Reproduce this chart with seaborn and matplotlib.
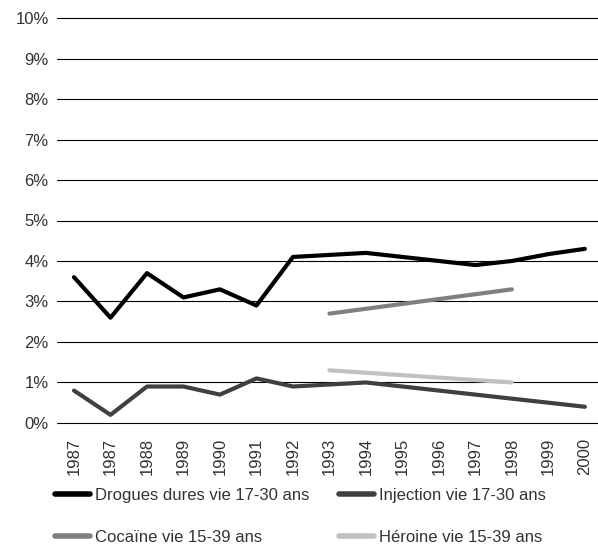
import numpy as np
import pandas as pd
import seaborn as sns
import matplotlib.pyplot as plt
from matplotlib.ticker import PercentFormatter

# Years on the axis (1987 appears twice in the source)
years = ['1987', '1987', '1988', '1989', '1990', '1991', '1992', '1993',
         '1994', '1995', '1996', '1997', '1998', '1999', '2000']

nan = np.nan
drogues = [3.6, 2.6, 3.7, 3.1, 3.3, 2.9, 4.1, 4.15, 4.2, 4.1, 4.0, 3.9, 4.0, 4.17, 4.3]
injection = [0.8, 0.2, 0.9, 0.9, 0.7, 1.1, 0.9, 0.95, 1.0, 0.9, 0.8, 0.7, 0.6, 0.5, 0.4]
cocaine = [nan] * 7 + [2.7, 2.82, 2.94, 3.06, 3.18, 3.3] + [nan, nan]
heroine = [nan] * 7 + [1.3, 1.24, 1.18, 1.12, 1.06, 1.0] + [nan, nan]

series = {
    'Drogues dures vie 17-30 ans': drogues,
    'Injection vie 17-30 ans': injection,
    'Cocaïne vie 15-39 ans': cocaine,
    'Héroine vie 15-39 ans': heroine,
}
colors = ['#000000', '#404040', '#808080', '#c0c0c0']

rows = []
for name, vals in series.items():
    for i, v in enumerate(vals):
        rows.append({'pos': i, 'serie': name, 'val': v / 100})
df = pd.DataFrame(rows).dropna()

sns.set_style('white')
plt.rcParams['font.family'] = ['Liberation Sans', 'DejaVu Sans']

fig = plt.figure(figsize=(5.98, 5.51), dpi=100)
ax = fig.add_axes([57 / 598, 1 - 427 / 551, 1 - 57 / 598, (427 - 14) / 551])

sns.lineplot(data=df, x='pos', y='val', hue='serie', hue_order=list(series),
             palette=colors, linewidth=3, ax=ax, legend=True)

ax.set_xlim(-0.466, 14.36)
ax.set_ylim(-0.001, 0.101)
ax.set_yticks(np.arange(0, 0.101, 0.01))
ax.yaxis.set_major_formatter(PercentFormatter(1.0, decimals=0))
ax.set_xticks(range(len(years)))
ax.set_xticklabels(years, rotation=90)
ax.tick_params(axis='both', length=0, labelsize=12, labelcolor='#333333')
ax.tick_params(axis='x', pad=8)
ax.tick_params(axis='y', pad=6)
ax.set_xlabel('')
ax.set_ylabel('')
for s in ax.spines.values():
    s.set_visible(False)
ax.grid(axis='y', color='#000000', linewidth=0.8)
ax.set_axisbelow(True)

# legend filled row by row, as in the source
handles, labels = ax.get_legend_handles_labels()
ax.get_legend().remove()
order = [0, 2, 1, 3]
fig.legend([handles[i] for i in order], [labels[i] for i in order], ncol=2,
           loc='upper left', frameon=False,
           bbox_to_anchor=(55 / 598, 1 - 488 / 551), borderaxespad=0, borderpad=0,
           fontsize=12, handlelength=2.1, handletextpad=0.3, columnspacing=1.8,
           labelspacing=1.6, labelcolor='#333333')
for h in fig.legends[0].get_lines():
    h.set_linewidth(4)

fig.savefig('out.png', dpi=100)
